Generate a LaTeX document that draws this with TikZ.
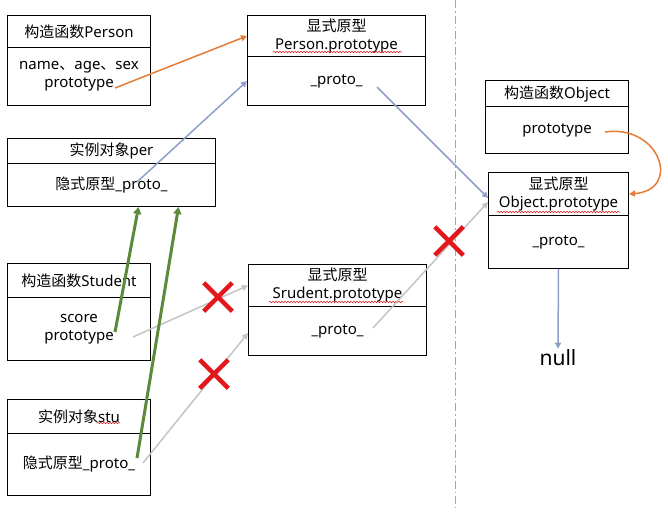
\documentclass[tikz,border=0pt]{standalone}
\usepackage{fontspec}
\setmainfont{Noto Sans}
\newfontfamily\cjk{Noto Sans CJK SC}
\usetikzlibrary{arrows.meta,shapes.misc,decorations.pathmorphing}
\definecolor{arrorange}{HTML}{E47B36}
\definecolor{arrblue}{HTML}{8E9FC9}
\definecolor{arrgray}{HTML}{C4C4C4}
\definecolor{arrgreen}{HTML}{5B8A3A}
\definecolor{xred}{HTML}{E3161B}
\tikzset{
  part/.style={draw=black, line width=1pt, rectangle, inner sep=0pt, anchor=north west,
    align=center, font=\fontsize{15}{18}\selectfont},
  conn/.style={line width=1.5pt, -{Triangle[length=6pt,width=6pt]}},
  orangeconn/.style={conn, draw=arrorange, -{Triangle[length=6pt,width=6pt,fill=arrorange]}},
  blueconn/.style={conn, draw=arrblue},
  grayconn/.style={conn, draw=arrgray},
  greenconn/.style={line width=3pt, draw=arrgreen, -{Triangle[length=7pt,width=8pt]}},
  nomark/.style={cross out, draw=xred, line width=4.5pt, minimum size=24pt, inner sep=0pt},
  spell/.style={draw=xred, line width=0.5pt, decorate, decoration={snake, amplitude=0.8pt, segment length=3pt}},
}
\begin{document}
\begin{tikzpicture}[x=1pt,y=-1pt]
\useasboundingbox (0,0) rectangle (668,512);
% divider
\draw[gray!70, line width=0.8pt, dash pattern=on 8pt off 3pt on 1.5pt off 3pt] (455,0) -- (455,508);

% 构造函数Person
\node[part, minimum width=143pt, minimum height=32pt] (pc-t) at (7,15) {{\cjk 构造函数}Person};
\node[part, minimum width=143pt, minimum height=58pt] (pc-b) at (7,47) {name{\cjk 、}age{\cjk 、}sex\\prototype};
% 实例对象per
\node[part, minimum width=208pt, minimum height=25pt] (per-t) at (7,138) {{\cjk 实例对象}per};
\node[part, minimum width=208pt, minimum height=43pt] (per-b) at (7,163) {{\cjk 隐式原型}\_proto\_};
% Person.prototype
\node[part, minimum width=178pt, minimum height=41pt] (pp-t) at (247,15) {{\cjk 显式原型}\\Person.prototype};
\node[part, minimum width=178pt, minimum height=49pt] (pp-b) at (247,56) {\_proto\_};
% 构造函数Object
\node[part, minimum width=143pt, minimum height=26pt] (oc-t) at (485,80) {{\cjk 构造函数}Object};
\node[part, minimum width=143pt, minimum height=47pt] (oc-b) at (485,106) {prototype};
% Object.prototype
\node[part, minimum width=140pt, minimum height=43pt] (op-t) at (488,172) {{\cjk 显式原型}\\Object.prototype};
\node[part, minimum width=140pt, minimum height=53pt] (op-b) at (488,215) {\_proto\_};
% 构造函数Student
\node[part, minimum width=143pt, minimum height=34pt] (sc-t) at (7,263) {{\cjk 构造函数}Student};
\node[part, minimum width=143pt, minimum height=63pt] (sc-b) at (7,297) {score\\prototype};
% 实例对象stu
\node[part, minimum width=143pt, minimum height=34pt] (stu-t) at (7,399) {{\cjk 实例对象}stu};
\node[part, minimum width=143pt, minimum height=62pt] (stu-b) at (7,433) {{\cjk 隐式原型}\_proto\_};
% Srudent.prototype
\node[part, minimum width=178pt, minimum height=42pt] (sp-t) at (248,264) {{\cjk 显式原型}\\Srudent.prototype};
\node[part, minimum width=178pt, minimum height=49pt] (sp-b) at (248,306) {\_proto\_};
% null
\node[font=\fontsize{21}{24}\selectfont, inner sep=1pt] (null) at (558,358) {null};

% spelling underlines
\draw[spell] (273,52) -- (402,52);
\draw[spell] (497,212) -- (620,212);
\draw[spell] (269,302) -- (403,302);
\draw[spell] (97,423) -- (120,423);

% connector start points
\coordinate (pcP) at (115,88);
\coordinate (perP) at (137,182);
\coordinate (ppP) at (377,87);
\coordinate (ocP) at (605,132);
\coordinate (spP) at (373,328);
\coordinate (scP) at (133,337);
\coordinate (stuP) at (143,463);
\coordinate (scG) at (115,332);
\coordinate (stuG) at (137,458);

\draw[orangeconn] (pcP) -- (pp-t.west);
\draw[blueconn] (perP) -- (pp-b.west);
\draw[blueconn] (ppP) -- ([yshift=-4pt]op-t.west);
\draw[orangeconn] (ocP) .. controls (660,124) and (682,190) .. (op-t.east);
\draw[grayconn] (spP) -- ([yshift=-8pt]op-t.west);
\draw[blueconn] (op-b.south) -- (null.north);
\draw[grayconn] (scP) -- (sp-t.west);
\draw[grayconn] (stuP) -- ([yshift=-2pt]sp-b.west);
\draw[greenconn] (scG) -- ([xshift=27pt]per-b.south);
\draw[greenconn] (stuG) -- ([xshift=67pt]per-b.south);

% red crosses
\node[nomark] (x1) at (218,297) {};
\node[nomark] (x2) at (214,374) {};
\node[nomark] (x3) at (449,241) {};
\end{tikzpicture}
\end{document}
